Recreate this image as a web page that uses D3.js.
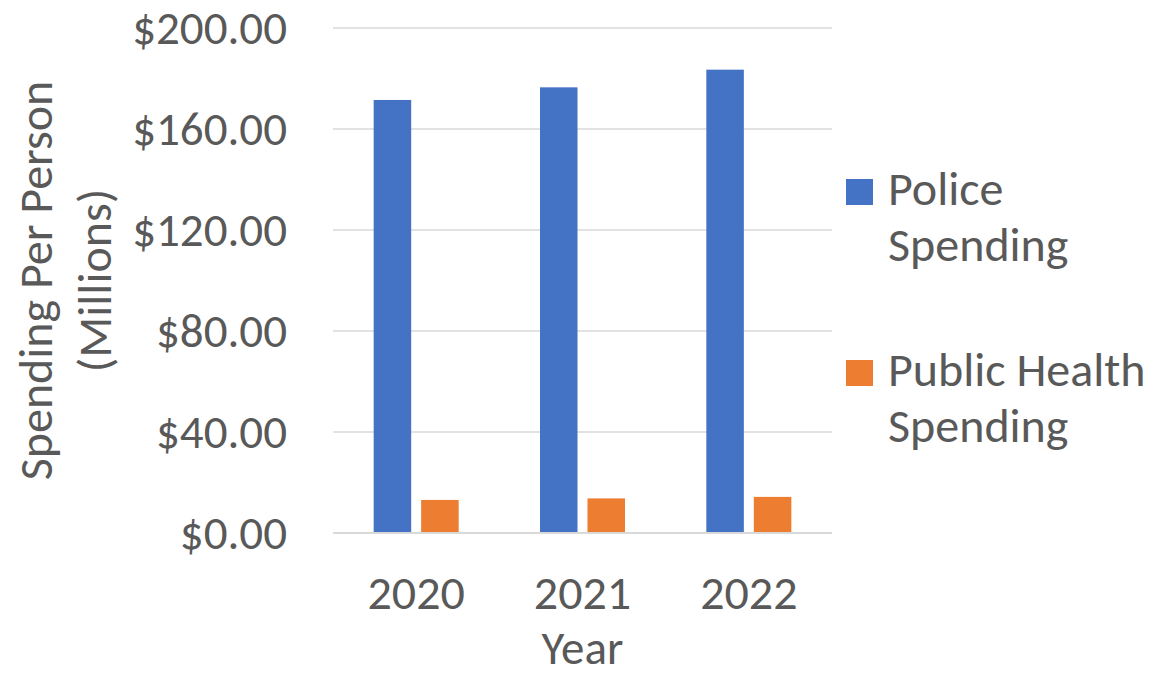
<!DOCTYPE html>
<html>
<head>
<meta charset="utf-8">
<script src="https://cdnjs.cloudflare.com/ajax/libs/d3/7.8.5/d3.min.js"></script>
<style>
  html, body { margin: 0; padding: 0; background: #fff; }
  svg { display: block; font-family: Calibri, Carlito, Lato, 'Open Sans', sans-serif; }
</style>
</head>
<body>
<div id="chart"></div>
<script>
// données
const years = ['2020', '2021', '2022'];
const seriesNames = ['Police Spending', 'Public Health Spending'];
const policeValues = [171.5, 176.5, 183.5];
const healthValues = [13.1, 13.7, 14.3];
const yTicks = [0, 40, 80, 120, 160, 200];
const legendLines = [['Police', 'Spending'], ['Public Health', 'Spending']];
const colors = ['#4472C4', '#ED7D31'];

const W = 1174, H = 679;
const plot = { left: 333, right: 832, top: 28, bottom: 533 };
const textColor = '#595959';
const fontFamily = "Calibri, Carlito, Lato, 'Open Sans', sans-serif";

const svg = d3.select('#chart').append('svg')
  .attr('width', W)
  .attr('height', H);

const x0 = d3.scaleBand()
  .domain(years)
  .range([plot.left, plot.right])
  .padding(0);

const x1 = d3.scaleBand()
  .domain(seriesNames)
  .range([0, x0.bandwidth()])
  .paddingInner(0.21)
  .paddingOuter(0.856);

const y = d3.scaleLinear()
  .domain([0, 200])
  .range([plot.bottom, plot.top]);

// grille
svg.append('g').selectAll('line')
  .data(yTicks.filter(t => t > 0)).join('line')
  .attr('x1', plot.left).attr('x2', plot.right)
  .attr('y1', d => y(d)).attr('y2', d => y(d))
  .attr('stroke', '#d9d9d9')
  .attr('stroke-width', 1.3);

// barres
const rows = years.map((yr, i) => ({ year: yr, values: [policeValues[i], healthValues[i]] }));
svg.append('g').selectAll('g')
  .data(rows).join('g')
  .attr('transform', d => `translate(${x0(d.year)},0)`)
  .selectAll('rect')
  .data(d => d.values.map((v, k) => ({ name: seriesNames[k], v, k })))
  .join('rect')
  .attr('x', d => x1(d.name))
  .attr('width', x1.bandwidth())
  .attr('y', d => y(d.v))
  .attr('height', d => y(0) - y(d.v))
  .attr('fill', d => colors[d.k]);

// axe x
svg.append('line')
  .attr('x1', plot.left).attr('x2', plot.right)
  .attr('y1', y(0)).attr('y2', y(0))
  .attr('stroke', '#d9d9d9')
  .attr('stroke-width', 2);

const yAxis = d3.axisLeft(y)
  .tickValues(yTicks)
  .tickSize(0)
  .tickPadding(46)
  .tickFormat(d => '$' + d3.format('.2f')(d));
const gy = svg.append('g')
  .attr('transform', `translate(${plot.left},0)`)
  .call(yAxis);
gy.select('.domain').remove();
gy.selectAll('text')
  .attr('fill', textColor)
  .style('font-size', '47px')
  .style('font-family', fontFamily);

const xAxis = d3.axisBottom(x0).tickSize(0).tickPadding(0);
const gx = svg.append('g')
  .attr('transform', `translate(0,${plot.bottom})`)
  .call(xAxis);
gx.select('.domain').remove();
gx.selectAll('text')
  .attr('dy', null)
  .attr('y', 76)
  .attr('fill', textColor)
  .style('font-size', '48px')
  .style('font-family', fontFamily);

// titres
svg.append('text')
  .attr('x', (plot.left + plot.right) / 2)
  .attr('y', 664)
  .attr('text-anchor', 'middle')
  .attr('fill', textColor)
  .style('font-size', '47px')
  .text('Year');

const yTitle = svg.append('text')
  .attr('transform', `translate(52,${(plot.top + plot.bottom) / 2}) rotate(-90)`)
  .attr('text-anchor', 'middle')
  .attr('fill', textColor)
  .style('font-size', '48px');
yTitle.append('tspan').attr('x', 0).attr('y', 0).text('Spending Per Person');
yTitle.append('tspan').attr('x', 0).attr('y', 59).text('(Millions)');

// légende
const legend = svg.append('g').selectAll('g')
  .data(seriesNames).join('g')
  .attr('transform', (d, i) => `translate(846,${179 + i * 181})`);
legend.append('rect')
  .attr('width', 27).attr('height', 26)
  .attr('fill', (d, i) => colors[i]);
legend.append('text')
  .attr('fill', textColor)
  .style('font-size', '48px')
  .selectAll('tspan')
  .data((d, i) => legendLines[i]).join('tspan')
  .attr('x', 42)
  .attr('y', (d, j) => 26 + j * 56)
  .text(d => d);
</script>
</body>
</html>
